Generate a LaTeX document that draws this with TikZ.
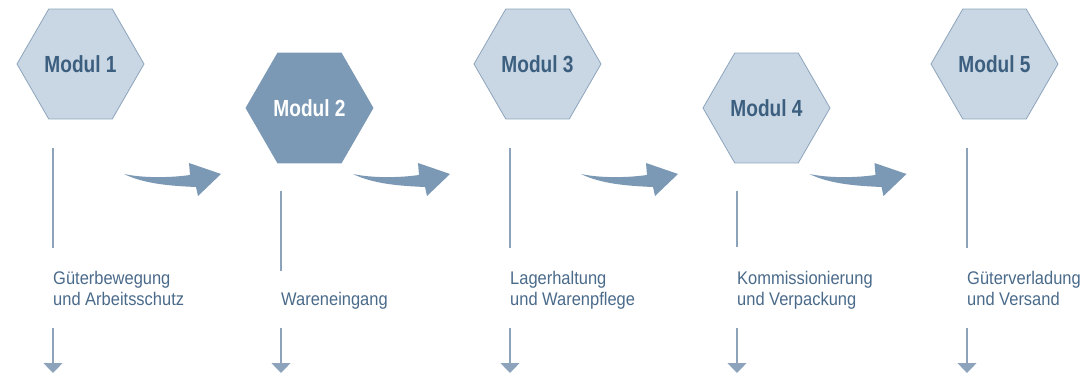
\documentclass[tikz,border=0pt]{standalone}
\usepackage{fontspec}
\setmainfont{Liberation Sans}
\newfontfamily\modulfont[FakeStretch=0.82]{Liberation Sans}
\newfontfamily\stufenfont[FakeStretch=0.9]{Liberation Sans}
\usetikzlibrary{shapes.geometric,arrows.meta}

\definecolor{hexhell}{HTML}{C9D6E3}
\definecolor{hexrand}{HTML}{8DA4BC}
\definecolor{hexdunkel}{HTML}{7B98B4}
\definecolor{schrift}{HTML}{3C5F80}
\definecolor{stufenschrift}{HTML}{4A6A8A}
\definecolor{linie}{HTML}{8CA3BB}

\begin{document}
\begin{tikzpicture}[%
    x=1pt, y=-1pt,                            % pixel-like grid, y runs downwards
    >={Triangle[width=19pt,length=10pt]},     % flat wide arrow heads
    ]
% -------------------------------------------------
% Styles for the modules, the captions and the connectors
\tikzset{
  modul/.style={regular polygon, regular polygon sides=6, minimum size=127pt,
    inner sep=0pt, draw=hexrand, line width=0.8pt, fill=hexhell, text=schrift,
    font=\modulfont\bfseries\fontsize{23.3}{28}\selectfont},
  aktiv/.style={modul, fill=hexdunkel, draw=hexdunkel, text=white},
  stufe/.style={anchor=base west, inner sep=0pt, align=left, text=stufenschrift,
    font=\stufenfont\fontsize{18.3}{21.5}\selectfont},
  lin/.style={draw=linie, line width=1.3pt},
  pfeil/.style={lin, ->, linie},
  % curved arrow between two modules
  bogen/.pic={
    \fill[hexdunkel] (0,0) .. controls (18,4) and (45,4) .. (66,1)
      -- (65,-11) -- (97,0) -- (74,22) -- (72,13)
      .. controls (48,12) and (20,10) .. (0,0) -- cycle;
  }
}
\useasboundingbox (0,0) rectangle (1091,374);
% -------------------------------------------------
% The five modules
\node [modul] (m1) at (80.5,64)  {Modul 1};
\node [aktiv] (m2) at (309.5,108) {Modul 2};
\node [modul] (m3) at (537.5,64) {Modul 3};
\node [modul] (m4) at (766.5,108) {Modul 4};
\node [modul] (m5) at (994.5,64) {Modul 5};

% Curved arrows from module to module
\pic at (124,174) {bogen};
\pic at (353,174) {bogen};
\pic at (581,174) {bogen};
\pic at (809.5,174) {bogen};

% -------------------------------------------------
% Captions below each module (base = last line)
\node [stufe] (t1) at (53,305.5)  {Güterbewegung\\und Arbeitsschutz};
\node [stufe] (t2) at (281,305.5) {Wareneingang};
\node [stufe] (t3) at (510,305.5) {Lagerhaltung\\und Warenpflege};
\node [stufe] (t4) at (737,305.5) {Kommissionierung\\und Verpackung};
\node [stufe] (t5) at (967,305.5) {Güterverladung\\und Versand};

% Lines from module to caption, arrows out of the caption
\draw [lin]   (t1.base west) ++(0,-157.5) -- ++(0,100);
\draw [pfeil] (t1.base west) ++(0,22.5)   -- ++(0,45);
\draw [lin]   (t2.base west) ++(0,-114.5) -- ++(0,80);
\draw [pfeil] (t2.base west) ++(0,22.5)   -- ++(0,45);
\draw [lin]   (t3.base west) ++(0,-157.5) -- ++(0,100);
\draw [pfeil] (t3.base west) ++(0,22.5)   -- ++(0,45);
\draw [lin]   (t4.base west) ++(0,-114.5) -- ++(0,56);
\draw [pfeil] (t4.base west) ++(0,22.5)   -- ++(0,45);
\draw [lin]   (t5.base west) ++(0,-157.5) -- ++(0,100);
\draw [pfeil] (t5.base west) ++(0,22.5)   -- ++(0,45);
% -------------------------------------------------
\end{tikzpicture}
\end{document}
